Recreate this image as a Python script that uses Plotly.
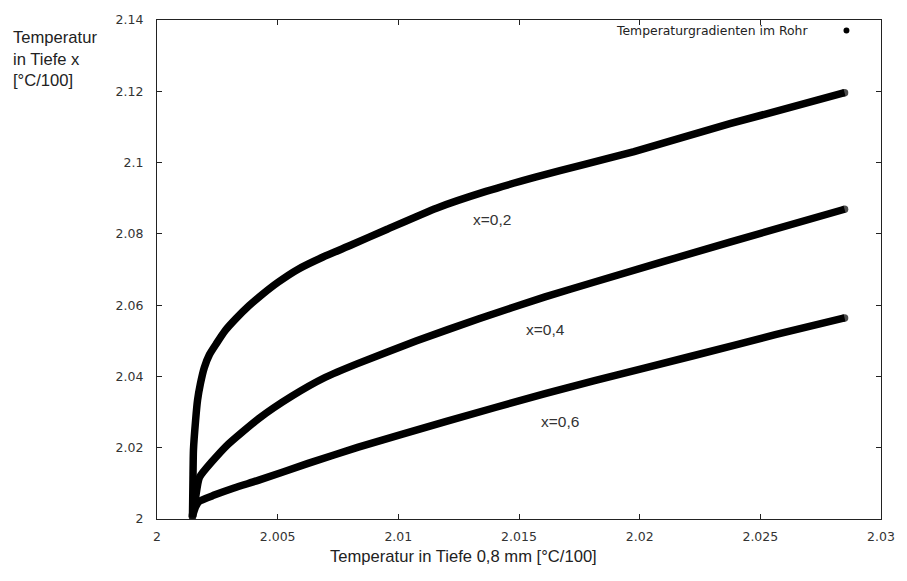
import plotly.graph_objects as go

# Temperature at depth x versus temperature at 0.8 mm depth (°C/100)
x_02 = [2.00147, 2.00149, 2.00151, 2.00160, 2.00168, 2.00180, 2.00196, 2.00217,
        2.00246, 2.00282, 2.00327, 2.00381, 2.00434, 2.00503, 2.00585, 2.00688,
        2.00802, 2.00954, 2.01158, 2.01363, 2.01568, 2.01772, 2.01977, 2.02374,
        2.02849]
y_02 = [2.0006, 2.0109, 2.0193, 2.0277, 2.0333, 2.0380, 2.0425, 2.0461,
        2.0492, 2.0528, 2.0562, 2.0598, 2.0629, 2.0665, 2.0701, 2.0735,
        2.0768, 2.0813, 2.0872, 2.0919, 2.0959, 2.0995, 2.1031, 2.1109,
        2.1196]

x_04 = [2.00147, 2.00160, 2.00176, 2.00286, 2.00422, 2.00557, 2.00696, 2.00831,
        2.01076, 2.01334, 2.01608, 2.01813, 2.02374, 2.02849]
y_04 = [2.0011, 2.0061, 2.0117, 2.0204, 2.0282, 2.0344, 2.0397, 2.0436,
        2.0500, 2.0562, 2.0623, 2.0665, 2.0777, 2.0869]

x_06 = [2.00147, 2.00160, 2.00176, 2.00237, 2.00319, 2.00422, 2.00626, 2.00831,
        2.01199, 2.01608, 2.01813, 2.02222, 2.02562, 2.02849]
y_06 = [2.0008, 2.0034, 2.0050, 2.0067, 2.0087, 2.0109, 2.0156, 2.0201,
        2.0274, 2.0352, 2.0388, 2.0458, 2.0517, 2.0564]

series = [("x=0,2", x_02, y_02), ("x=0,4", x_04, y_04), ("x=0,6", x_06, y_06)]

# curve labels: (text, x, y)
curve_labels = [("x=0,2", 2.0139, 2.0841), ("x=0,4", 2.0161, 2.0531), ("x=0,6", 2.0167, 2.0274)]

x_ticks = [2, 2.005, 2.01, 2.015, 2.02, 2.025, 2.03]
y_ticks = [2, 2.02, 2.04, 2.06, 2.08, 2.1, 2.12, 2.14]

LINE_W = 7.5
fig = go.Figure()
for name, xs, ys in series:
    sizes = [LINE_W] + [0] * (len(xs) - 2) + [LINE_W]
    fig.add_trace(go.Scatter(
        x=xs, y=ys, name=name, mode="lines+markers",
        line=dict(color="black", width=LINE_W, shape="spline", smoothing=0.5),
        marker=dict(color="black", size=sizes, line=dict(width=0)),
        showlegend=False, hoverinfo="skip",
    ))

for text, lx, ly in curve_labels:
    fig.add_annotation(x=lx, y=ly, text=text, showarrow=False,
                       font=dict(family="Liberation Sans, Arial", size=15.5, color="#333333"))

axis_common = dict(
    showline=True, linecolor="#222222", linewidth=1.2, mirror="ticks",
    ticks="inside", ticklen=5, tickcolor="#222222", tickwidth=1,
    showgrid=False, zeroline=False,
    tickfont=dict(family="DejaVu Sans", size=12.5, color="#333333"),
)

fig.update_xaxes(range=[2, 2.03], tickvals=x_ticks, ticklabelstandoff=6, **axis_common)
fig.update_yaxes(range=[2, 2.14], tickvals=y_ticks, ticklabelstandoff=10, **axis_common)

# axis titles
fig.add_annotation(xref="paper", yref="paper", x=0.423, y=-0.076,
                   text="Temperatur in Tiefe 0,8 mm [°C/100]", showarrow=False,
                   xanchor="center", yanchor="middle",
                   font=dict(family="Liberation Sans, Arial", size=16.6, color="#222222"))
fig.add_annotation(xref="paper", yref="paper", x=-0.201, y=0.988,
                   text="Temperatur<br>in Tiefe x<br>[°C/100]", showarrow=False,
                   xanchor="left", yanchor="top", align="left",
                   font=dict(family="Liberation Sans, Arial", size=16.6, color="#222222"))

# key
fig.add_annotation(xref="paper", yref="paper", x=0.902, y=0.979,
                   text="Temperaturgradienten im Rohr", showarrow=False,
                   xanchor="right", yanchor="middle",
                   font=dict(family="DejaVu Sans", size=12.4, color="#222222"))
fig.add_shape(type="circle", xref="paper", yref="paper",
              x0=0.9482, x1=0.9564, y0=0.973, y1=0.985,
              fillcolor="black", line=dict(width=0))

fig.update_layout(
    width=907, height=581,
    margin=dict(l=157, r=17, t=18, b=62),
    paper_bgcolor="white", plot_bgcolor="white",
)

fig.write_html("out.html")
